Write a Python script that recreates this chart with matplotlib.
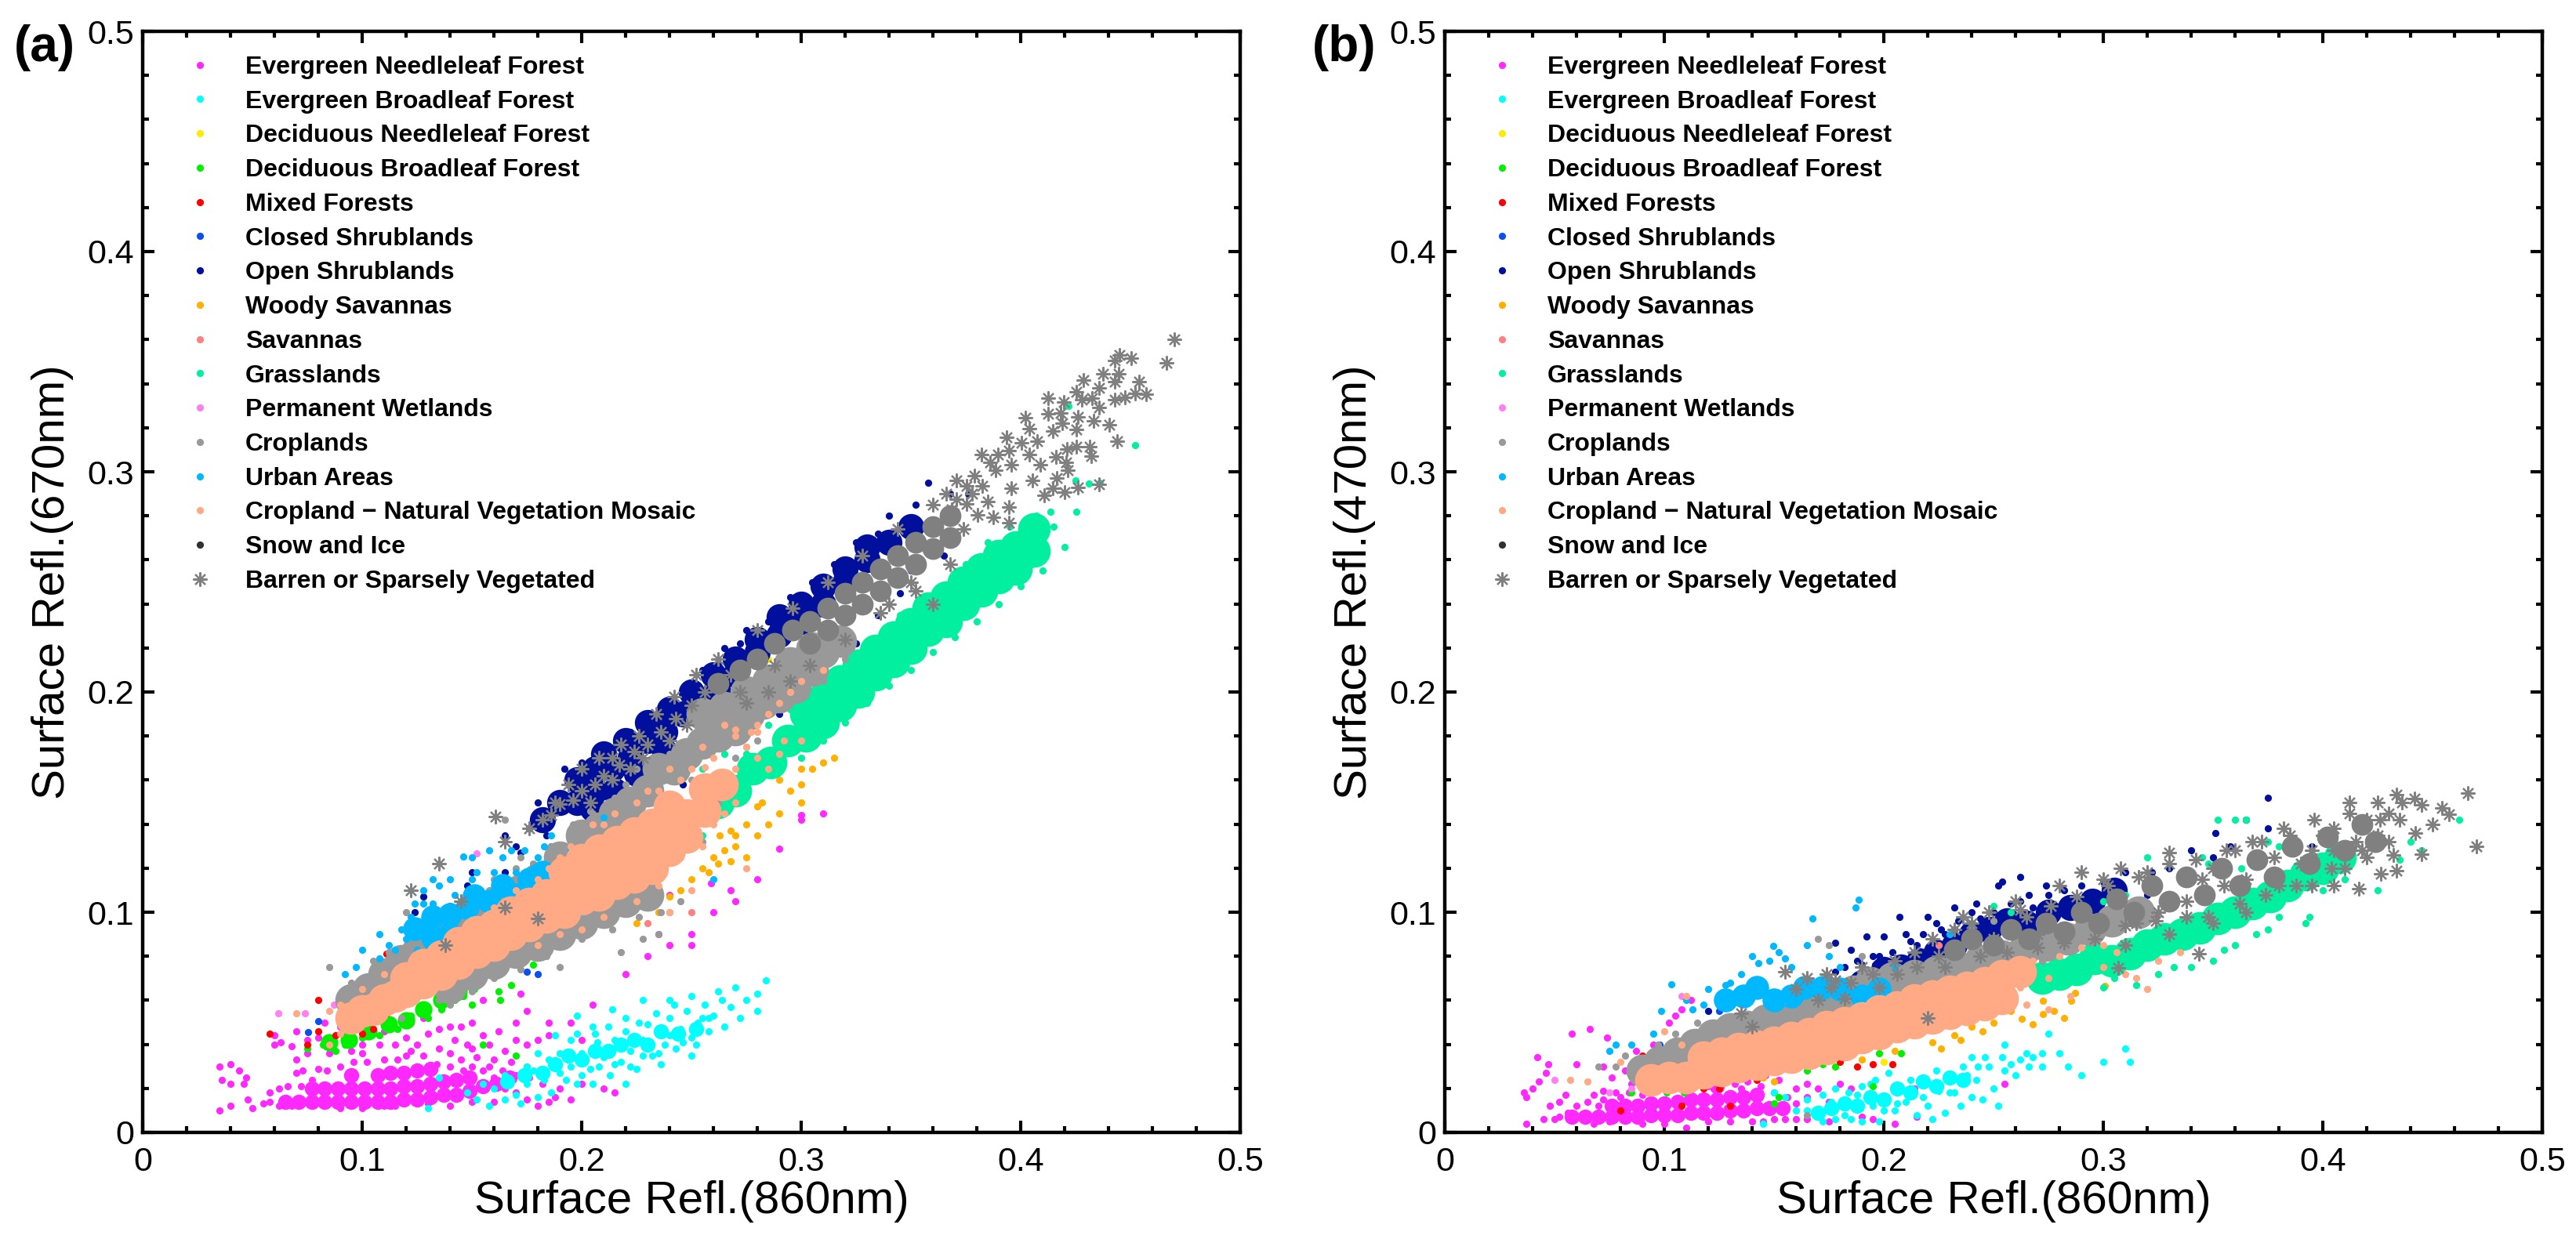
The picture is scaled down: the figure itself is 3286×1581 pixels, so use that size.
import numpy as np
import matplotlib
matplotlib.use('Agg')
import matplotlib.pyplot as plt
from matplotlib.lines import Line2D
from matplotlib.ticker import MultipleLocator

plt.rcParams['font.family'] = ['Liberation Sans', 'DejaVu Sans']

classes = ['Evergreen Needleleaf Forest', 'Evergreen Broadleaf Forest', 'Deciduous Needleleaf Forest',
           'Deciduous Broadleaf Forest', 'Mixed Forests', 'Closed Shrublands', 'Open Shrublands',
           'Woody Savannas', 'Savannas', 'Grasslands', 'Permanent Wetlands', 'Croplands', 'Urban Areas',
           'Cropland \u2212 Natural Vegetation Mosaic', 'Snow and Ice', 'Barren or Sparsely Vegetated']
colors = ['#FF28FF', '#00FFFF', '#FFEB00', '#00F000', '#FF0000', '#0A50F0', '#00109C', '#FFB000',
          '#FF8080', '#00F0A0', '#FF80F0', '#999999', '#00B8FF', '#FFAA85', '#303030', '#808080']
# size of the fat dot used where a cloud is solid, per class
core_ms = [14, 14, 0, 16, 0, 0, 24, 0, 0, 30, 0, 30, 22, 30]

# panel (a): single points, (x, y)
a_magenta = [(.035,.010),(.040,.012),(.048,.015),(.050,.011),(.055,.013),(.058,.018),(.062,.020),(.035,.030),(.040,.031),(.044,.028),(.036,.024),(.040,.022),(.046,.022),(.047,.025),(.070,.033),(.075,.036),(.073,.028),(.080,.029),(.077,.024),(.085,.036),(.092,.042),(.060,.044),(.060,.040),(.063,.041),(.070,.046),(.075,.042),(.080,.043),(.085,.042),(.100,.036),(.108,.040),(.115,.040),(.120,.043),(.125,.040),(.130,.045),(.120,.035),(.125,.030),(.135,.038),(.140,.036),(.145,.033),(.150,.030),(.155,.028),(.160,.025),(.165,.020),(.170,.018),(.175,.015),(.180,.012),(.160,.033),(.165,.037),(.170,.042),(.175,.040),(.170,.050),(.175,.055),(.185,.050),(.180,.042),(.185,.044),(.195,.050),(.205,.058),(.200,.042),(.140,.048),(.145,.048),(.150,.050),(.155,.060),(.172,.063),(.200,.022),(.195,.015),(.210,.020),(.215,.018),(.130,.013),(.150,.014),(.115,.012),(.090,.011),(.100,.011),(.110,.012),(.140,.012),(.160,.014),(.185,.014),(.190,.020),(.250,.090),(.260,.100),(.240,.085),(.280,.115),(.300,.144),(.310,.145),(.290,.129),(.270,.105),(.230,.080),(.220,.072),(.250,.085),(.235,.090),(.268,.110),(.259,.113),(.240,.108),(.300,.142)]
a_magenta_2 = [(.066,.021),(.072,.021),(.070,.027),(.084,.028),(.090,.030),(.096,.032),(.102,.032),(.110,.033),(.116,.033),(.122,.037),(.128,.035),(.134,.031),(.140,.030),(.146,.028),(.152,.034),(.158,.030),(.164,.028),(.170,.026),(.176,.025),(.182,.022),(.188,.016),(.175,.030),(.168,.032),(.148,.040),(.142,.042),(.135,.047),(.122,.050),(.128,.052),(.090,.048),(.083,.050),(.068,.039),(.150,.038),(.155,.044),(.158,.040),(.162,.046),(.110,.046),(.100,.040),(.095,.037),(.058,.014),(.062,.012),(.068,.012)]
a_magenta_core = [(.065,.014),(.071,.014),(.077,.014),(.077,.020),(.083,.014),(.083,.020),(.089,.014),(.089,.020),(.095,.014),(.095,.020),(.095,.026),(.101,.014),(.101,.020),(.107,.014),(.107,.020),(.107,.026),(.113,.014),(.113,.020),(.113,.027),(.119,.015),(.119,.021),(.119,.027),(.125,.015),(.125,.021),(.125,.028),(.131,.016),(.131,.022),(.131,.029),(.137,.017),(.137,.023),(.143,.017),(.143,.024),(.149,.019),(.149,.025),(.155,.021),(.161,.022),(.167,.025)]
a_cyan = [(.130,.011),(.135,.025),(.148,.018),(.152,.015),(.155,.022),(.160,.020),(.165,.026),(.170,.017),(.172,.013),(.175,.022),(.178,.028),(.180,.016),(.183,.024),(.186,.018),(.190,.027),(.190,.036),(.195,.030),(.198,.022),(.200,.036),(.204,.029),(.207,.041),(.210,.034),(.213,.026),(.215,.042),(.218,.032),(.220,.046),(.222,.037),(.225,.029),(.228,.042),(.230,.049),(.232,.035),(.235,.045),(.238,.040),(.240,.052),(.243,.038),(.245,.047),(.248,.055),(.250,.043),(.253,.050),(.256,.058),(.258,.046),(.260,.053),(.262,.064),(.265,.048),(.268,.057),(.270,.066),(.272,.052),(.275,.060),(.280,.063),(.284,.069),(.280,.055),(.250,.035),(.236,.031),(.242,.058),(.228,.060),(.214,.056),(.198,.053),(.205,.048),(.220,.022),(.205,.022),(.195,.042),(.188,.044),(.180,.036)]
a_cyan_2 = [(.165,.015),(.158,.012),(.175,.030),(.185,.033),(.193,.024),(.200,.026),(.208,.030),(.215,.031),(.222,.030),(.228,.035),(.235,.036),(.240,.044),(.246,.041),(.252,.040),(.258,.052),(.264,.060),(.198,.045),(.206,.045),(.212,.048),(.220,.052),(.226,.050),(.234,.054),(.240,.060),(.250,.062),(.255,.052)]
a_cyan_core = [(.166,.023),(.174,.026),(.182,.027),(.188,.031),(.194,.035),(.200,.033),(.206,.037),(.212,.037),(.218,.040),(.224,.042),(.230,.040),(.236,.046),(.244,.045),(.252,.047)]
a_green = [(.075,.038),(.082,.040),(.088,.037),(.092,.040),(.100,.043),(.108,.044),(.116,.047),(.122,.053),(.130,.052),(.136,.056),(.142,.060),(.146,.062),(.151,.065),(.160,.075),(.162,.064),(.168,.067),(.172,.078),(.178,.076),(.155,.040),(.170,.035),(.163,.060),(.150,.058)]
a_green_core = [(.085,.041),(.094,.042),(.103,.046),(.112,.049),(.120,.051),(.128,.056),(.136,.060),(.144,.064)]
a_yellow = [(.285,.215)]
a_red = [(.058,.045),(.075,.040),(.080,.046),(.092,.048),(.100,.045),(.103,.055),(.111,.054),(.111,.081),(.080,.060),(.088,.044),(.115,.058),(.105,.047),(.140,.103),(.175,.110),(.150,.098),(.190,.115),(.215,.128),(.210,.095),(.230,.135),(.235,.152)]
a_blue = [(.0755,.0457),(.080,.0504),(.097,.0662),(.0935,.0617),(.180,.0718),(.175,.073),(.135,.085),(.160,.105),(.170,.090),(.120,.082)]
a_navy = [(.128,.107),(.124,.100),(.130,.093),(.150,.118),(.148,.112),(.165,.135),(.170,.130),(.165,.118),(.172,.127),(.176,.138),(.180,.150),(.184,.135),(.186,.130),(.178,.112),(.192,.165),(.196,.133),(.200,.168),(.206,.138),(.212,.172),(.220,.147),(.222,.182),(.228,.150),(.240,.195),(.246,.158),(.250,.203),(.255,.210),(.262,.212),(.265,.220),(.272,.222),(.275,.228),(.285,.232),(.290,.238),(.300,.195),(.307,.188),(.295,.243),(.305,.250),(.315,.258),(.325,.268),(.335,.272),(.340,.280),(.352,.285),(.358,.295),(.368,.290),(.376,.290),(.345,.245),(.350,.255),(.365,.262),(.315,.205),(.325,.222),(.335,.235),(.290,.190),(.280,.192)]
a_navy_core = [(.182,.142),(.190,.150),(.198,.150),(.198,.160),(.206,.155),(.206,.165),(.214,.165),(.222,.170),(.230,.178),(.238,.182),(.238,.173),(.246,.190),(.254,.190),(.262,.200),(.270,.208),(.280,.218),(.290,.226),(.300,.232),(.310,.240),(.320,.250),(.330,.260),(.340,.268),(.350,.275),(.210,.172),(.220,.178),(.230,.186),(.240,.192),(.250,.200),(.260,.208),(.270,.215),(.280,.224),(.290,.234),(.300,.240),(.310,.248),(.320,.256),(.330,.266),(.205,.147),(.215,.155),(.225,.163),(.260,.190),(.275,.198)]
a_orange = [(.240,.107),(.250,.115),(.255,.120),(.260,.125),(.265,.128),(.270,.130),(.262,.122),(.258,.118),(.268,.123),(.270,.135),(.275,.140),(.280,.135),(.282,.150),(.285,.140),(.275,.125),(.290,.145),(.295,.155),(.300,.165),(.305,.165),(.310,.168),(.315,.170),(.300,.150),(.290,.160),(.280,.148),(.268,.137),(.263,.135),(.225,.095),(.235,.100),(.245,.110),(.300,.158)]
a_salmon = [(.250,.100),(.230,.095)]
a_spring = [(.250,.145),(.240,.130),(.255,.165),(.265,.172),(.275,.172),(.285,.185),(.295,.192),(.300,.170),(.310,.178),(.320,.186),(.330,.195),(.340,.203),(.350,.210),(.360,.218),(.370,.225),(.380,.232),(.390,.240),(.400,.248),(.410,.255),(.420,.266),(.415,.275),(.407,.280),(.4136,.282),(.4254,.282),(.425,.296),(.431,.2947),(.436,.295),(.4218,.330),(.452,.312),(.405,.258),(.395,.275),(.385,.268),(.375,.258),(.345,.235),(.330,.222),(.215,.130),(.200,.165),(.255,.135),(.265,.150)]
a_spring_core = [(.262,.150),(.270,.155),(.278,.165),(.286,.168),(.294,.178),(.302,.180),(.302,.190),(.310,.186),(.310,.197),(.318,.194),(.318,.205),(.326,.200),(.326,.212),(.334,.208),(.334,.219),(.342,.214),(.342,.225),(.350,.220),(.350,.231),(.358,.228),(.358,.238),(.366,.232),(.366,.243),(.374,.240),(.374,.250),(.382,.246),(.382,.256),(.390,.252),(.390,.262),(.398,.256),(.398,.266),(.406,.264),(.406,.274)]
a_orchid = [(.0618,.054),(.074,.054),(.087,.058),(.090,.058),(.152,.1266),(.105,.070),(.125,.085),(.190,.118)]
a_gray = [(.085,.075),(.095,.068),(.098,.058),(.090,.050),(.105,.058),(.118,.052),(.120,.100),(.130,.080),(.135,.060),(.148,.068),(.158,.110),(.156,.072),(.172,.125),(.165,.113),(.190,.130),(.205,.145),(.180,.100),(.195,.088),(.165,.142),(.190,.075),(.228,.088),(.218,.082),(.240,.100),(.235,.090),(.245,.105),(.240,.172),(.236,.160),(.255,.132),(.250,.160),(.262,.150),(.275,.175),(.280,.178),(.270,.170),(.295,.197),(.300,.200),(.310,.205),(.320,.215),(.220,.158),(.225,.165),(.215,.152),(.210,.133)]
a_gray_2 = [(.105,.078),(.112,.082),(.122,.086),(.130,.095),(.138,.100),(.146,.105),(.160,.115),(.170,.120),(.178,.122),(.186,.130),(.196,.140),(.204,.146),(.212,.150),(.160,.070),(.172,.074),(.184,.080),(.200,.088),(.214,.092),(.226,.098),(.236,.100),(.150,.064),(.140,.058)]
a_gray_core = [(.095,.060),(.103,.065),(.110,.072),(.118,.078),(.125,.082),(.133,.088),(.140,.092),(.148,.098),(.155,.101),(.165,.106),(.172,.110),(.180,.115),(.190,.125),(.200,.135),(.208,.138),(.215,.145),(.222,.150),(.230,.155),(.235,.165),(.242,.165),(.248,.172),(.255,.177),(.262,.180),(.270,.183),(.276,.190),(.283,.195),(.290,.198),(.297,.202),(.305,.210),(.310,.218),(.318,.223),(.140,.066),(.150,.072),(.160,.077),(.170,.082),(.180,.085),(.190,.090),(.200,.095),(.210,.100),(.220,.105),(.230,.108),(.255,.190),(.265,.193),(.275,.200),(.285,.205),(.295,.213),(.305,.220)]
a_sky = [(.108,.079),(.092,.072),(.097,.075),(.100,.083),(.108,.090),(.112,.085),(.118,.092),(.124,.104),(.128,.104),(.132,.104),(.122,.098),(.135,.112),(.140,.115),(.146,.1252),(.150,.125),(.150,.115),(.152,.118),(.160,.118),(.164,.125),(.170,.118),(.174,.128),(.180,.125),(.186,.135),(.188,.122),(.195,.128),(.200,.100),(.128,.075),(.142,.072),(.210,.143),(.260,.115),(.192,.108)]
a_sky_2 = [(.115,.083),(.120,.088),(.125,.083),(.135,.082),(.145,.085),(.148,.095),(.155,.093),(.162,.100),(.168,.100),(.175,.103),(.180,.108),(.158,.128),(.168,.128),(.178,.120),(.183,.130),(.193,.118),(.198,.122),(.205,.128),(.128,.110),(.132,.115),(.142,.108)]
a_sky_core = [(.124,.0925),(.132,.0884),(.132,.098),(.140,.0989),(.140,.090),(.148,.102),(.151,.1074),(.158,.105),(.164,.112),(.170,.108),(.176,.115),(.182,.118)]
a_peach = [(.270,.165),(.275,.175),(.260,.170),(.255,.175),(.245,.160),(.240,.165),(.280,.185),(.285,.190),(.270,.180),(.290,.195),(.265,.185),(.230,.155),(.225,.150),(.215,.145),(.210,.140),(.205,.140),(.250,.165),(.235,.155),(.280,.170),(.260,.140),(.270,.150),(.265,.145),(.255,.130),(.245,.125),(.235,.112),(.225,.105),(.210,.098),(.200,.092),(.190,.090),(.180,.085),(.120,.075),(.110,.072),(.100,.065),(.090,.058),(.085,.055),(.090,.045),(.070,.054),(.085,.040),(.160,.102),(.170,.110),(.180,.115),(.185,.120),(.190,.125),(.195,.130),(.300,.205),(.295,.200),(.310,.210),(.270,.183),(.277,.182),(.280,.182),(.256,.166),(.285,.165),(.290,.172),(.300,.178),(.240,.100),(.250,.110),(.275,.120),(.292,.178)]
a_peach_core = [(.095,.052),(.100,.055),(.105,.056),(.110,.060),(.115,.062),(.120,.064),(.120,.070),(.128,.068),(.128,.076),(.136,.072),(.136,.080),(.144,.077),(.144,.086),(.152,.082),(.152,.091),(.160,.085),(.160,.094),(.168,.090),(.168,.100),(.176,.094),(.176,.104),(.184,.098),(.184,.108),(.192,.100),(.192,.110),(.192,.118),(.200,.106),(.200,.115),(.200,.124),(.208,.108),(.208,.118),(.208,.128),(.216,.113),(.216,.122),(.216,.132),(.224,.116),(.224,.126),(.224,.136),(.232,.120),(.232,.130),(.232,.140),(.240,.128),(.240,.138),(.240,.148),(.248,.134),(.248,.144),(.256,.146),(.256,.156),(.264,.158)]
a_star = [(.470,.360),(.445,.353),(.4666,.3495),(.4541,.341),(.4570,.3351),(.4523,.3357),(.4475,.3339),(.4428,.3327),(.4428,.341),(.4445,.3446),(.4374,.3446),(.4504,.3517),(.4428,.3505),(.4356,.338),(.4285,.3416),(.4255,.3363),(.4326,.3333),(.4278,.3327),(.4356,.3292),(.4124,.3333),(.4195,.3315),(.4124,.3262),(.4183,.3268),(.4261,.325),(.4332,.3232),(.4404,.3214),(.4023,.3244),(.4041,.3197),(.4148,.3185),(.419,.3221),(.4255,.3191),(.3937,.3158),(.4076,.3138),(.4005,.3132),(.4212,.3102),(.4255,.3114),(.4314,.3114),(.4439,.3138),(.432,.3072),(.3821,.3078),(.3898,.3078),(.3945,.3096),(.4041,.3078),(.4088,.3031),(.3958,.3031),(.416,.3066),(.4207,.3043),(.3861,.3043),(.3885,.3007),(.3791,.2983),(.4213,.3007),(.4166,.2972),(.4053,.296),(.3707,.296),(.3755,.2936),(.3826,.2936),(.3958,.2924),(.4148,.2924),(.4261,.293),(.4356,.2942),(.4201,.2906),(.4106,.2894),(.385,.2865),(.3945,.2841),(.3707,.2877),(.366,.29),(.3755,.2853),(.3802,.2806),(.3874,.2794),(.3684,.2829),(.3945,.277),(.1607,.1433),(.165,.132),(.182,.142),(.186,.1442),(.190,.149),(.196,.151),(.200,.155),(.200,.165),(.210,.162),(.217,.167),(.224,.173),(.230,.176),(.236,.182),(.243,.188),(.250,.194),(.256,.1999),(.268,.208),(.206,.158),(.214,.170),(.222,.165),(.228,.170),(.240,.178),(.248,.185),(.145,.105),(.122,.110),(.165,.102),(.138,.085),(.180,.097),(.135,.122),(.275,.195),(.285,.200),(.295,.205),(.350,.250),(.360,.240),(.340,.240)]
a_star_2 = [(.262,.215),(.272,.200),(.280,.228),(.288,.212),(.296,.238),(.304,.212),(.312,.250),(.320,.224),(.328,.262),(.336,.236),(.344,.274),(.352,.246),(.360,.285),(.368,.258),(.374,.274),(.378,.290),(.252,.208),(.242,.198),(.234,.190),(.226,.180),(.218,.176),(.208,.170),(.214,.160),(.204,.150),(.194,.158),(.188,.150),(.176,.138)]
a_star_core = [(.262,.204),(.272,.210),(.280,.215),(.288,.222),(.296,.228),(.304,.232),(.304,.222),(.312,.238),(.312,.228),(.320,.245),(.320,.235),(.328,.250),(.328,.240),(.336,.256),(.336,.246),(.344,.262),(.344,.252),(.352,.268),(.352,.258),(.360,.275),(.360,.265),(.368,.280),(.368,.270)]

# panel (b)
b_magenta = [(.037,.004),(.045,.006),(.050,.006),(.037,.016),(.040,.020),(.043,.023),(.046,.027),(.047,.031),(.042,.034),(.036,.018),(.052,.014),(.055,.017),(.048,.012),(.052,.007),(.056,.009),(.060,.031),(.058,.045),(.066,.047),(.074,.043),(.072,.030),(.076,.025),(.082,.028),(.087,.037),(.095,.040),(.102,.050),(.108,.056),(.112,.060),(.105,.053),(.085,.022),(.078,.018),(.072,.019),(.068,.017),(.090,.017),(.175,.014),(.180,.022),(.185,.020),(.190,.007),(.195,.006),(.160,.020),(.165,.016),(.170,.010),(.165,.006),(.175,.005),(.215,.007),(.205,.004),(.214,.020),(.255,.022),(.135,.020),(.145,.005),(.110,.002),(.150,.006),(.120,.005)]
b_magenta_2 = [(.060,.012),(.065,.014),(.070,.012),(.072,.015),(.080,.016),(.084,.018),(.092,.020),(.098,.022),(.104,.020),(.110,.022),(.115,.024),(.120,.021),(.126,.025),(.132,.022),(.138,.023),(.144,.021),(.150,.018),(.156,.016),(.160,.013),(.152,.024),(.146,.026),(.140,.028),(.165,.022),(.170,.020),(.155,.006),(.160,.006),(.100,.004),(.090,.004),(.130,.005),(.140,.005),(.075,.005),(.068,.004)]
b_magenta_core = [(.058,.007),(.064,.007),(.070,.007),(.076,.007),(.076,.012),(.082,.007),(.082,.012),(.088,.007),(.088,.012),(.094,.008),(.094,.013),(.100,.008),(.100,.013),(.106,.008),(.106,.014),(.112,.009),(.112,.015),(.118,.009),(.118,.015),(.124,.009),(.124,.015),(.124,.021),(.130,.010),(.130,.016),(.136,.010),(.136,.016),(.142,.011),(.142,.017),(.148,.011),(.154,.011)]
b_cyan = [(.145,.004),(.165,.015),(.160,.010),(.170,.008),(.172,.005),(.176,.014),(.178,.020),(.185,.006),(.190,.005),(.195,.012),(.198,.005),(.205,.010),(.210,.014),(.215,.008),(.220,.012),(.225,.019),(.222,.006),(.228,.009),(.232,.018),(.235,.012),(.238,.026),(.240,.016),(.243,.030),(.240,.034),(.246,.034),(.250,.020),(.255,.028),(.258,.031),(.262,.033),(.268,.034),(.272,.030),(.265,.036),(.280,.036),(.290,.026),(.300,.032),(.310,.038),(.275,.045),(.255,.040),(.245,.015),(.252,.012),(.155,.016),(.150,.018),(.312,.032)]
b_cyan_2 = [(.182,.008),(.188,.017),(.194,.022),(.200,.010),(.206,.013),(.212,.024),(.218,.016),(.224,.028),(.230,.018),(.236,.030),(.242,.024),(.248,.030),(.254,.034),(.260,.026),(.266,.030),(.272,.036),(.284,.030),(.165,.010),(.172,.017),(.178,.006),(.184,.018),(.190,.021),(.196,.024),(.202,.027)]
b_cyan_core = [(.170,.009),(.176,.011),(.182,.013),(.188,.012),(.194,.016),(.200,.015),(.206,.020),(.212,.018),(.218,.023),(.224,.021),(.230,.025),(.236,.024)]
b_yellow = [(.200,.032)]
b_green = [(.085,.018),(.093,.019),(.101,.018),(.109,.018),(.116,.022),(.126,.023),(.150,.013),(.152,.016),(.165,.028),(.172,.031),(.178,.030),(.198,.036),(.208,.036),(.195,.021)]
b_red = [(.090,.035),(.093,.018),(.098,.020),(.102,.024),(.112,.022),(.118,.020),(.125,.020),(.135,.025),(.142,.024),(.108,.012),(.130,.012),(.180,.032),(.188,.030),(.195,.031),(.204,.031),(.155,.060),(.146,.062),(.135,.065),(.110,.042),(.080,.010)]
b_blue = [(.108,.041),(.120,.043),(.125,.055),(.133,.052),(.095,.022),(.098,.040),(.089,.026),(.100,.032),(.150,.062),(.160,.050),(.135,.063)]
b_navy = [(.120,.055),(.130,.045),(.135,.052),(.145,.055),(.170,.058),(.178,.086),(.185,.083),(.192,.089),(.195,.080),(.172,.068),(.178,.073),(.182,.075),(.190,.076),(.200,.089),(.198,.080),(.207,.098),(.212,.087),(.215,.085),(.220,.098),(.224,.095),(.228,.090),(.232,.102),(.240,.100),(.244,.097),(.252,.112),(.254,.114),(.262,.116),(.262,.105),(.268,.102),(.275,.108),(.232,.092),(.243,.085),(.225,.080),(.283,.100),(.292,.108),(.298,.104),(.310,.118),(.322,.118),(.330,.120),(.340,.128),(.351,.136),(.358,.130),(.375,.152),(.375,.138),(.365,.142),(.395,.130),(.405,.135),(.350,.125),(.320,.108)]
b_navy_2 = [(.188,.078),(.196,.076),(.204,.082),(.210,.090),(.218,.090),(.226,.092),(.234,.096),(.242,.104),(.250,.100),(.258,.104),(.266,.108),(.274,.112),(.282,.110),(.290,.112),(.300,.114)]
b_navy_core = [(.190,.068),(.200,.074),(.208,.075),(.216,.078),(.224,.082),(.232,.085),(.240,.090),(.248,.092),(.256,.096),(.265,.095),(.275,.100),(.285,.102),(.295,.105),(.305,.110)]
b_orange = [(.110,.022),(.120,.024),(.135,.027),(.145,.025),(.150,.023),(.157,.029),(.175,.033),(.190,.033),(.205,.037),(.222,.041),(.226,.038),(.235,.042),(.240,.048),(.263,.0515),(.2678,.0491),(.2726,.0539),(.2774,.0551),(.2726,.0598),(.2855,.0598),(.287,.0634),(.3006,.0664),(.258,.055),(.250,.050),(.245,.046),(.232,.044),(.280,.068),(.225,.075),(.282,.052)]
b_salmon = [(.225,.085),(.290,.090)]
b_spring = [(.250,.103),(.258,.100),(.240,.095),(.243,.088),(.220,.072),(.260,.072),(.265,.070),(.290,.070),(.3,.066),(.305,.070),(.315,.067),(.325,.072),(.332,.075),(.340,.075),(.350,.078),(.355,.083),(.360,.085),(.3698,.0901),(.375,.092),(.380,.098),(.392,.095),(.394,.098),(.400,.110),(.410,.115),(.425,.110),(.440,.132),(.445,.128),(.435,.124),(.462,.142),(.3,.105),(.310,.108),(.320,.125),(.345,.125),(.352,.142),(.360,.142),(.365,.142),(.375,.132),(.380,.130),(.348,.122),(.363,.120)]
b_spring_core = [(.272,.070),(.280,.072),(.288,.074),(.296,.079),(.304,.078),(.312,.081),(.320,.085),(.328,.088),(.336,.090),(.344,.093),(.352,.097),(.360,.100),(.368,.104),(.376,.107),(.384,.112),(.392,.117),(.400,.120),(.408,.125)]
b_orchid = [(.108,.062),(.050,.024),(.075,.018),(.085,.020),(.148,.0495),(.120,.035)]
b_gray = [(.070,.030),(.078,.030),(.082,.035),(.097,.040),(.105,.045),(.115,.050),(.120,.040),(.130,.042),(.135,.062),(.175,.085),(.170,.088),(.190,.080),(.150,.060),(.165,.008),(.240,.092),(.245,.075),(.265,.075),(.258,.085),(.285,.083),(.272,.078),(.278,.090),(.250,.096)]
b_gray_core = [(.090,.028),(.098,.032),(.106,.036),(.114,.040),(.122,.044),(.130,.047),(.138,.048),(.146,.051),(.154,.054),(.162,.057),(.170,.059),(.178,.060),(.186,.064),(.194,.068),(.204,.070),(.214,.071),(.224,.073),(.234,.075),(.244,.078),(.254,.080),(.264,.083),(.274,.085),(.284,.088),(.294,.092),(.304,.096),(.316,.100)]
b_sky = [(.1033,.0673),(.0985,.0552),(.1675,.097),(.1495,.0846),(.1885,.1056),(.187,.102),(.158,.075),(.140,.080),(.143,.077),(.148,.078),(.152,.082),(.155,.079),(.125,.060),(.120,.065),(.118,.058),(.128,.067),(.110,.060),(.113,.056),(.075,.037),(.078,.040),(.085,.040),(.095,.045),(.135,.072),(.130,.068),(.175,.080),(.165,.085),(.180,.075),(.205,.075),(.155,.045),(.145,.040),(.230,.090),(.235,.082)]
b_sky_core = [(.128,.060),(.136,.062),(.142,.066),(.150,.060),(.158,.062),(.164,.066),(.172,.066),(.180,.065),(.190,.062),(.198,.065)]
b_peach = [(.057,.024),(.065,.023),(.080,.032),(.110,.062),(.100,.046),(.108,.040),(.095,.026),(.120,.032),(.135,.036),(.150,.044),(.165,.048),(.280,.080),(.290,.084),(.275,.070),(.268,.078),(.262,.066),(.300,.075),(.310,.072),(.315,.070),(.325,.078),(.335,.082),(.320,.065),(.300,.085),(.306,.082),(.285,.062),(.275,.056),(.265,.058),(.258,.092),(.248,.085)]
b_peach_core = [(.094,.024),(.102,.025),(.110,.025),(.118,.027),(.118,.034),(.126,.028),(.126,.036),(.134,.030),(.134,.038),(.142,.031),(.142,.039),(.150,.033),(.150,.041),(.158,.034),(.158,.043),(.166,.036),(.166,.045),(.174,.038),(.174,.048),(.182,.040),(.182,.050),(.190,.043),(.190,.052),(.198,.045),(.198,.055),(.206,.048),(.206,.057),(.214,.050),(.214,.060),(.222,.052),(.222,.062),(.230,.054),(.230,.064),(.238,.056),(.238,.066),(.246,.058),(.246,.068),(.254,.061),(.254,.071),(.262,.073)]
b_star = [(.4661,.1542),(.470,.130),(.4337,.1534),(.4417,.1517),(.4449,.1487),(.4544,.1475),(.4576,.1446),(.4449,.1262),(.4337,.1187),(.4265,.1175),(.4165,.1106),(.3434,.0812),(.3069,.0747),(.430,.145),(.425,.150),(.420,.142),(.412,.145),(.405,.138),(.435,.142),(.442,.136),(.450,.140),(.415,.132),(.425,.135),(.405,.128),(.420,.125),(.430,.132),(.410,.120),(.400,.135),(.395,.128),(.390,.122),(.385,.135),(.378,.125),(.372,.132),(.365,.115),(.360,.128),(.355,.112),(.350,.120),(.345,.115),(.338,.105),(.330,.122),(.325,.100),(.320,.118),(.315,.095),(.308,.120),(.300,.115),(.290,.118),(.280,.112),(.270,.090),(.260,.105),(.250,.088),(.240,.095),(.232,.092),(.225,.080),(.215,.075),(.205,.078),(.195,.072),(.185,.068),(.176,.066),(.170,.060),(.165,.070),(.135,.054),(.155,.073),(.220,.052),(.265,.098),(.310,.085),(.330,.090),(.350,.095),(.365,.100),(.380,.112),(.395,.112),(.405,.112),(.140,.048),(.178,.069)]
b_star_2 = [(.228,.075),(.236,.098),(.244,.080),(.248,.100),(.256,.082),(.262,.101),(.270,.084),(.276,.103),(.282,.086),(.288,.107),(.296,.088),(.302,.112),(.310,.094),(.316,.116),(.324,.096),(.330,.127),(.338,.098),(.342,.124),(.348,.098),(.356,.128),(.362,.104),(.368,.132),(.374,.108),(.382,.138),(.388,.112),(.396,.142),(.404,.120),(.412,.150),(.418,.128),(.426,.142),(.432,.126),(.436,.150),(.222,.088),(.214,.082),(.206,.072),(.198,.066),(.190,.075),(.182,.061),(.174,.072),(.160,.065)]
b_star_core = [(.232,.083),(.240,.088),(.250,.085),(.258,.092),(.266,.088),(.274,.095),(.282,.091),(.290,.100),(.298,.095),(.306,.106),(.314,.100),(.322,.112),(.330,.105),(.338,.116),(.346,.108),(.354,.120),(.362,.112),(.370,.124),(.378,.116),(.386,.130),(.394,.122),(.402,.134),(.410,.128),(.418,.140),(.424,.132)]

major_ticks = [0, 0.1, 0.2, 0.3, 0.4, 0.5]
tick_labels = ['0', '0.1', '0.2', '0.3', '0.4', '0.5']
panel_a = [a_magenta + a_magenta_2, a_cyan + a_cyan_2, a_yellow, a_green, a_red, a_blue, a_navy, a_orange, a_salmon,
           a_spring, a_orchid, a_gray + a_gray_2, a_sky + a_sky_2, a_peach]
core_a = [a_magenta_core, a_cyan_core, [], a_green_core, [], [], a_navy_core, [], [], a_spring_core, [], a_gray_core, a_sky_core, a_peach_core]
panel_b = [b_magenta + b_magenta_2, b_cyan + b_cyan_2, b_yellow, b_green, b_red, b_blue, b_navy + b_navy_2, b_orange, b_salmon,
           b_spring, b_orchid, b_gray, b_sky, b_peach]
core_b = [b_magenta_core, b_cyan_core, [], [], [], [], b_navy_core, [], [], b_spring_core, [], b_gray_core, b_sky_core, b_peach_core]

W, H = 3287, 1581
fig = plt.figure(figsize=(W / 100, H / 100), dpi=100)
star = (8, 2, 0)


def draw_panel(left, dots, cores, star_pts, star_core, ylabel, tag, tag_x):
    ax = fig.add_axes([left / W, (H - 1445) / H, 1400 / W, 1405 / H])
    for i, pts in enumerate(dots):
        if len(cores[i]):
            c = np.array(cores[i])
            ax.plot(c[:, 0], c[:, 1], 'o', color=colors[i], ms=core_ms[i], mew=0)
        p = np.array(pts)
        ax.plot(p[:, 0], p[:, 1], 'o', color=colors[i], ms=6.6, mew=0)
    # stars pile up solid along the band
    c = np.array(star_core)
    ax.plot(c[:, 0], c[:, 1], 'o', color=colors[15], ms=20, mew=0)
    p = np.array(star_pts)
    ax.plot(p[:, 0], p[:, 1], ls='none', marker=star, color=colors[15], ms=13, mew=1.6)

    ax.set_xlim(0, 0.5)
    ax.set_ylim(0, 0.5)
    ax.set_xticks(major_ticks, tick_labels)
    ax.set_yticks(major_ticks, tick_labels)
    ax.xaxis.set_minor_locator(MultipleLocator(0.02))
    ax.yaxis.set_minor_locator(MultipleLocator(0.02))
    ax.tick_params(which='major', direction='in', length=11, width=3, labelsize=31, top=True, right=True)
    ax.tick_params(which='minor', direction='in', length=6, width=3, top=True, right=True)
    ax.tick_params(axis='x', which='major', pad=13)
    ax.tick_params(axis='y', which='major', pad=8)
    for s in ax.spines.values():
        s.set_linewidth(3.2)
    ax.set_xlabel('Surface Refl.(860nm)', fontsize=42, labelpad=2)
    ax.set_ylabel(ylabel, fontsize=42, labelpad=12)

    handles = []
    for i, name in enumerate(classes):
        m = star if i == 15 else 'o'
        handles.append(Line2D([], [], ls='none', marker=m, color=colors[i], ms=13 if i == 15 else 6.6,
                              mew=1.6 if i == 15 else 0, label=name))
    ax.legend(handles=handles, loc='upper left', bbox_to_anchor=(0.0386, 0.978), frameon=False,
              borderpad=0, borderaxespad=0, numpoints=1, handlelength=1.2, handletextpad=1.2,
              labelspacing=0.43, prop={'weight': 'bold', 'size': 23})
    fig.text(tag_x / W, (H - 78) / H, tag, fontsize=46, fontweight='bold', ha='left', va='baseline')


draw_panel(182, panel_a, core_a, a_star + a_star_2, a_star_core, 'Surface Refl.(670nm)', '(a)', 18)
draw_panel(1843, panel_b, core_b, b_star + b_star_2, b_star_core, 'Surface Refl.(470nm)', '(b)', 1674)

fig.savefig('out.png', dpi=100)
